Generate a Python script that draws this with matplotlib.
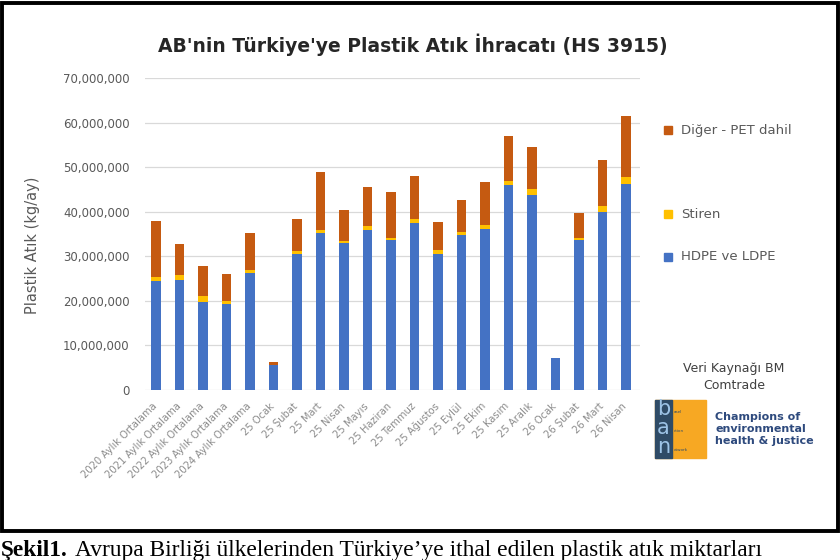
import numpy as np
import matplotlib
matplotlib.use("Agg")
from matplotlib import pyplot as plt
from matplotlib.patches import Rectangle
from matplotlib.ticker import FuncFormatter
from matplotlib.transforms import ScaledTranslation

# Months / averages on the x axis
months = ["2020 Aylık Ortalama", "2021 Aylık Ortalama", "2022 Aylık Ortalama",
          "2023 Aylık Ortalama", "2024 Aylık Ortalama", "25 Ocak", "25 Şubat",
          "25 Mart", "25 Nisan", "25 Mayıs", "25 Haziran", "25 Temmuz",
          "25 Ağustos", "25 Eylül", "25 Ekim", "25 Kasım", "25 Aralık",
          "26 Ocak", "26 Şubat", "26 Mart", "26 Nisan"]

# Values in kg per month (millions)
hdpe_ldpe = [24.5, 24.7, 19.8, 19.2, 26.3, 5.6, 30.5, 35.3, 33.0, 36.0, 33.6,
             37.5, 30.5, 34.8, 36.1, 45.9, 43.7, 7.2, 33.7, 40.0, 46.3]
stiren = [0.8, 1.2, 1.3, 0.8, 0.6, 0.1, 0.7, 0.6, 0.5, 0.8, 0.5,
          0.8, 0.9, 0.6, 1.0, 1.0, 1.5, 0.0, 0.3, 1.3, 1.5]
diger = [12.7, 6.8, 6.7, 6.0, 8.3, 0.5, 7.2, 13.1, 6.9, 8.8, 10.3,
         9.8, 6.2, 7.2, 9.5, 10.1, 9.3, 0.0, 5.6, 10.4, 13.6]

series_names = ["Diğer - PET dahil", "Stiren", "HDPE ve LDPE"]
blue = "#4472C4"
yellow = "#FFC000"
orange = "#C55A11"

W, H = 840, 560
fig = plt.figure(figsize=(8.4, 5.6), dpi=100)

def fx(px):
    return px / W

def fy(py):
    return 1 - py / H

ax = fig.add_axes([fx(145), fy(390), fx(640) - fx(145), fy(78) - fy(390)])

x = np.arange(len(months))
hd = np.array(hdpe_ldpe) * 1e6
st = np.array(stiren) * 1e6
dg = np.array(diger) * 1e6
bw = 0.41
ax.bar(x, hd, bw, color=blue, zorder=3)
ax.bar(x, st, bw, bottom=hd, color=yellow, zorder=3)
ax.bar(x, dg, bw, bottom=hd + st, color=orange, zorder=3)

ax.set_ylim(0, 70e6)
ax.set_xlim(-0.47, 20.6)
ax.set_yticks(np.arange(0, 70e6 + 1, 10e6))
ax.yaxis.set_major_formatter(FuncFormatter(lambda v, p: f"{int(v):,}"))
ax.grid(axis="y", color="#D9D9D9", lw=0.9, zorder=0)
for s in ax.spines.values():
    s.set_visible(False)
ax.tick_params(length=0)
ax.tick_params(axis="y", labelsize=8.5, labelcolor="#595959", pad=11)
ax.set_xticks(x)
ax.set_xticklabels(months, rotation=45, ha="right", va="top",
                   rotation_mode="anchor", fontsize=7.2, color="#8C8C8C")
ax.tick_params(axis="x", pad=8)
shift = ScaledTranslation(-4 / 100, 0, fig.dpi_scale_trans)
for lab in ax.get_xticklabels():
    lab.set_transform(lab.get_transform() + shift)

fig.text(fx(33), fy(245), "Plastik Atık (kg/ay)", rotation=90, ha="center",
         va="center", fontsize=10.5, color="#595959")

fig.text(fx(413), fy(45), "AB'nin Türkiye'ye Plastik Atık İhracatı (HS 3915)",
         ha="center", va="center", fontsize=13.5, fontweight="bold",
         color="#262626")

# legend drawn by hand, Excel-style spacing
for name, col, py in zip(series_names, [orange, yellow, blue], [130, 214, 257]):
    fig.add_artist(Rectangle((fx(664), fy(py + 4)), fx(8), 8 / H,
                             transform=fig.transFigure, color=col))
    fig.text(fx(681), fy(py), name, ha="left", va="center", fontsize=9.5,
             color="#595959")

fig.text(fx(734), fy(377), "Veri Kaynağı BM\nComtrade", ha="center",
         va="center", fontsize=9, color="#404040", linespacing=1.45)

# BAN logo
fig.add_artist(Rectangle((fx(655), fy(458)), fx(51), 58 / H,
                         transform=fig.transFigure, color="#F7A823"))
fig.add_artist(Rectangle((fx(655), fy(458)), fx(17), 58 / H,
                         transform=fig.transFigure, color="#2F4B66"))
for letter, rest, py in zip("ban", ["asel", "ction", "etwork"], [409, 428, 447]):
    fig.text(fx(663.5), fy(py), letter, ha="center", va="center", fontsize=15,
             color="#9DC3E6")
    fig.text(fx(674), fy(py + 3), rest, ha="left", va="center", fontsize=3,
             color="#2F4B66")
fig.text(fx(715), fy(429), "Champions of\nenvironmental\nhealth & justice",
         ha="left", va="center", fontsize=8, fontweight="bold",
         color="#2E4A7D", linespacing=1.2)

# black frame around the chart
fig.add_artist(Rectangle((fx(1.5), fy(531)), fx(836), 528.5 / H,
                         transform=fig.transFigure, fill=False,
                         edgecolor="black", lw=2.8))

fig.text(fx(1), fy(556), "Şekil1.", ha="left", va="baseline", fontsize=16.8,
         fontweight="bold", family="Liberation Serif", color="black")
fig.text(fx(75), fy(556),
         "Avrupa Birliği ülkelerinden Türkiye’ye ithal edilen plastik atık miktarları",
         ha="left", va="baseline", fontsize=16.9, family="Liberation Serif",
         color="black")

fig.savefig("out.png", dpi=100)
